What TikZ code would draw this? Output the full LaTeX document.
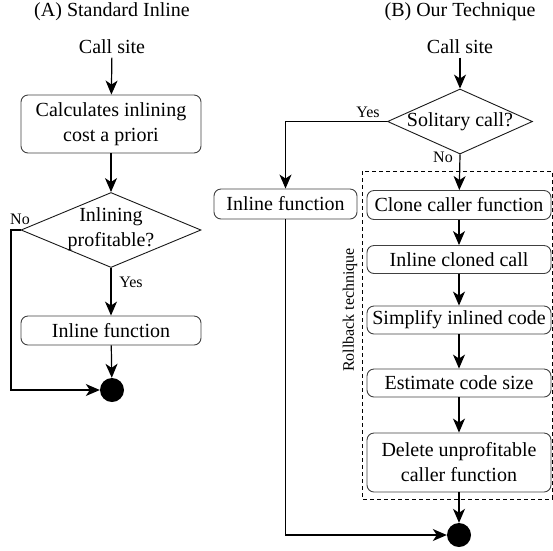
\documentclass[tikz,border=0pt]{standalone}
\usepackage{fontspec}
\setmainfont{Liberation Serif}
\usetikzlibrary{shapes.geometric,arrows.meta}
\begin{document}
\begin{tikzpicture}[x=1pt,y=-1pt,
  font=\fontsize{20}{25}\selectfont,
  box/.style={draw=black!75,line width=0.9pt,rounded corners=7pt,minimum width=#1,align=center,inner sep=0pt},
  dec/.style={draw=black!90,line width=0.9pt,diamond,inner sep=0pt},
  arr/.style={line width=1.2pt,-{Stealth[length=14pt,width=12pt,inset=4pt]}},
  lbl/.style={font=\fontsize{16}{19}\selectfont,inner sep=0pt},
  endpt/.style={circle,fill=black,minimum size=24pt,inner sep=0pt}]
\useasboundingbox (0,0) rectangle (553,550);
% ---------- (A)
\node (titleA) at (112,12) {(A) Standard Inline};
\node (callA) at (112,47) {Call site};
\node[box=180pt,minimum height=58pt] (calcA) at (111,124) {Calculates inlining\\cost a priori};
\node[dec,minimum width=180pt,minimum height=75pt] (decA) at (111,230) {};
\node[align=center,inner sep=0pt] (decAtext) at (111,229) {Inlining\\profitable?};
\node[box=180pt,minimum height=29pt] (inlA) at (111,330.5) {Inline function};
\node[endpt] (endA) at (112,390) {};
\node[lbl] (yesA) at (131,282) {Yes};
\node[lbl] (noA) at (20,219) {No};
\coordinate (cornA) at (11,230);
\draw[arr] (callA) -- (calcA);
\draw[arr] (calcA) -- (decA);
\draw[arr] (decA.south) -- (inlA);
\draw[arr] (inlA) -- (endA);
\draw[arr] (decA.west) -- (cornA) |- (endA);
% ---------- (B)
\node (titleB) at (460,12) {(B) Our Technique};
\node (callB) at (460,47) {Call site};
\node[dec,minimum width=145pt,minimum height=65pt] (decB) at (460,121.5) {};
\node[inner sep=0pt] (decBtext) at (460,121.5) {Solitary call?};
\node[lbl] (yesB) at (368,112) {Yes};
\node[lbl] (noB) at (443,157) {No};
\draw[dashed,dash pattern=on 4pt off 3pt,line width=0.8pt] (362,171) rectangle (552,499);
\node[lbl,rotate=90] (rollback) at (350,310) {Rollback technique};
\node[box=143pt,minimum height=30pt] (inlB) at (285.5,204) {Inline function};
\node[box=184pt,minimum height=29pt] (clone) at (459,205) {Clone caller function};
\node[box=184pt,minimum height=28pt] (inlclone) at (459,259.5) {Inline cloned call};
\node[box=184pt,minimum height=28pt] (simp) at (459,320) {Simplify inlined code};
\node[box=184pt,minimum height=28pt] (est) at (459,383) {Estimate code size};
\node[box=184pt,minimum height=59pt] (del) at (459,462.5) {Delete unprofitable\\caller function};
\node[endpt] (endB) at (459,535) {};
\coordinate (cornB) at (285.5,121.5);
\draw[arr] (callB) -- (decB);
\draw[arr] (decB.west) -- (cornB) -- (inlB);
\draw[arr] (decB.south) -- (clone);
\draw[arr] (clone) -- (inlclone);
\draw[arr] (inlclone) -- (simp);
\draw[arr] (simp) -- (est);
\draw[arr] (est) -- (del);
\draw[arr] (del) -- (endB);
\draw[arr] (inlB) |- (endB);
\end{tikzpicture}
\end{document}
